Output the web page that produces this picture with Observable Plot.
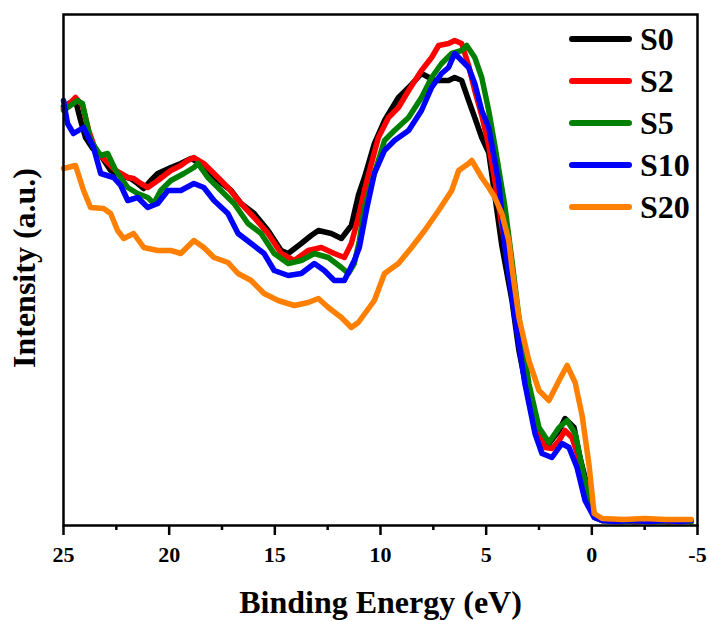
<!DOCTYPE html>
<html>
<head>
<meta charset="utf-8">
<script src="https://cdn.jsdelivr.net/npm/d3@7"></script>
<script src="https://cdn.jsdelivr.net/npm/@observablehq/plot@0.6"></script>
<style>
  body { margin: 0; background: #fff; }
  #wrap { position: relative; width: 708px; height: 621px; font-family: "Liberation Serif", "Times New Roman", serif; }
  #legend { position: absolute; left: 569px; top: 18px; }
  .item { display: flex; align-items: center; height: 42px; }
  .sw { width: 63px; height: 6px; border-radius: 3px; margin-right: 8px; }
  .lab { font-weight: bold; font-size: 32px; line-height: 1; color: #000; }
  #ytitle { position: absolute; left: 24px; top: 268px; transform: translate(-50%, -50%) rotate(-90deg);
            white-space: nowrap; font-weight: bold; font-size: 32px; line-height: 32px; color: #000; }
</style>
</head>
<body>
<div id="wrap"><div id="legend"></div><div id="ytitle"></div></div>
<script>
// Series names and colours
const seriesNames = ["S0", "S2", "S5", "S10", "S20"];
const seriesColors = ["#000000", "#ff0000", "#008000", "#0000ff", "#ff8000"];

// [binding energy (eV), intensity (a.u.)]
const s0 = [[25,419],[24.76,422],[24.43,425],[24.19,405],[23.96,388],[23.62,377],[23.24,370],[22.77,355],[22.29,350],[21.82,347],[21.49,342],[21.2,337],[20.87,345],[20.54,352],[19.92,358],[19.45,362],[18.97,367],[18.5,362],[17.88,348],[17.07,335],[16.6,322],[15.98,312],[15.32,295],[14.7,275],[14.37,272],[13.75,282],[13.28,290],[12.94,295],[12.33,292],[11.85,287],[11.38,300],[11.05,330],[10.76,348],[10.29,382],[9.81,405],[9.15,428],[8.67,438],[8.06,452],[7.44,445],[6.78,445],[6.49,448],[6.16,445],[5.83,425],[5.54,408],[5.21,388],[4.88,373],[4.59,330],[4.26,280],[3.78,225],[3.45,175],[2.98,125],[2.5,92],[2.03,82],[1.55,95],[1.27,107],[0.84,98],[0.56,68],[0.13,32],[-0.15,8],[-0.49,5],[-1.2,5],[-2,4],[-2.8,5],[-3.6,4],[-4.3,5],[-4.7,4]];
const s2 = [[25,417],[24.67,423],[24.43,428],[24.1,420],[23.81,395],[23.48,375],[23.24,370],[22.91,363],[22.53,355],[21.96,348],[21.68,347],[21.35,342],[21.01,338],[20.54,345],[19.92,355],[19.45,360],[19.12,365],[18.83,368],[18.36,362],[17.88,352],[17.22,338],[16.6,322],[15.98,308],[15.32,292],[14.7,272],[14.08,265],[13.42,275],[12.8,278],[12.19,272],[11.71,268],[11.38,282],[11.05,308],[10.76,335],[10.43,362],[10.1,388],[9.62,408],[9.15,418],[8.67,435],[8.06,455],[7.58,468],[7.25,480],[6.78,482],[6.49,485],[6.16,482],[5.83,460],[5.54,435],[5.21,410],[4.88,380],[4.59,345],[4.26,300],[3.78,245],[3.45,195],[2.98,135],[2.5,95],[2.22,78],[1.89,77],[1.55,85],[1.27,95],[0.94,88],[0.56,63],[0.13,28],[-0.15,8],[-0.49,5],[-1.3,5],[-2.1,4],[-2.9,5],[-3.7,4],[-4.4,5],[-4.7,4]];
const s5 = [[25,415],[24.67,420],[24.34,425],[24.1,422],[23.72,385],[23.24,370],[22.91,372],[22.53,355],[21.96,338],[21.49,332],[21.01,328],[20.73,322],[20.4,335],[19.92,345],[19.3,352],[18.83,358],[18.64,362],[18.17,348],[17.55,335],[16.93,322],[16.27,302],[15.65,292],[15.03,272],[14.37,262],[13.75,265],[13.13,272],[12.47,268],[11.85,258],[11.52,252],[11.24,262],[11.0,285],[10.76,318],[10.29,352],[9.81,385],[9.34,395],[8.67,408],[8.06,428],[7.58,448],[7.11,462],[6.63,472],[6.16,475],[5.92,480],[5.54,468],[5.21,448],[4.88,415],[4.59,380],[4.12,320],[3.78,265],[3.45,208],[2.98,142],[2.5,98],[2.03,83],[1.55,98],[1.17,105],[0.79,92],[0.46,58],[0.13,25],[-0.15,8],[-0.49,5],[-1.4,4],[-2.2,5],[-3.0,4],[-3.8,5],[-4.7,4]];
const s10 = [[25,425],[24.81,402],[24.53,392],[24.29,395],[24.05,398],[23.58,378],[23.24,352],[22.63,348],[22.29,340],[21.96,325],[21.49,328],[21.01,318],[20.54,322],[20.06,335],[19.45,335],[18.83,342],[18.36,338],[17.88,325],[17.22,312],[16.74,292],[16.12,282],[15.51,272],[15.03,255],[14.37,250],[13.75,252],[13.13,262],[12.66,255],[12.19,245],[11.71,245],[11.24,265],[11.0,278],[10.67,315],[10.29,352],[9.81,375],[9.34,385],[8.67,395],[8.06,415],[7.58,438],[7.11,452],[6.78,458],[6.49,472],[6.16,465],[5.83,458],[5.54,442],[5.21,415],[4.88,398],[4.4,342],[4.12,280],[3.64,208],[3.17,142],[2.69,92],[2.36,72],[1.89,68],[1.41,82],[1.08,78],[0.7,58],[0.32,25],[-0.11,8],[-0.49,5],[-1.1,4],[-1.9,5],[-2.7,4],[-3.5,5],[-4.2,4],[-4.7,5]];
const s20 = [[25,357],[24.43,360],[24.05,335],[23.72,318],[23.1,317],[22.77,312],[22.44,295],[22.15,287],[21.68,292],[21.2,278],[20.54,275],[19.92,275],[19.45,272],[18.83,285],[18.36,278],[17.88,268],[17.22,263],[16.74,252],[16.12,245],[15.51,232],[14.84,225],[14.08,220],[13.42,223],[12.94,227],[12.47,218],[11.85,208],[11.38,198],[11.05,203],[10.29,225],[9.81,252],[9.15,262],[8.53,278],[7.91,295],[7.25,315],[6.63,335],[6.3,355],[5.83,362],[5.68,365],[5.21,348],[4.88,338],[4.59,328],[4.26,312],[3.93,285],[3.78,258],[3.45,208],[2.98,165],[2.5,135],[2.03,125],[1.55,145],[1.17,160],[0.79,143],[0.46,110],[0.13,60],[-0.11,12],[-0.49,7],[-1.5,6],[-2.5,7],[-3.5,6],[-4.7,6]];

// Axis ticks and titles
const majorTicks = [25, 20, 15, 10, 5, 0, -5];
const minorTicks = [22.5, 17.5, 12.5, 7.5, 2.5, -2.5];
const xTitle = "Binding Energy (eV)";
const yTitle = "Intensity (a.u.)";

const allSeries = [s0, s2, s5, s10, s20];
const data = allSeries.flatMap((s, i) => s.map(([E, I]) => ({E, I, series: seriesNames[i]})));

const chart = Plot.plot({
  width: 708,
  height: 621,
  marginLeft: 63,
  marginRight: 11,
  marginTop: 14,
  marginBottom: 96,
  style: { fontFamily: "'Liberation Serif', 'Times New Roman', serif", background: "#fff", color: "#000" },
  x: { domain: [25, -5] },
  y: { domain: [0, 511], axis: null },
  color: { domain: seriesNames, range: seriesColors },
  marks: [
    Plot.line(data, { x: "E", y: "I", z: "series", stroke: "series", strokeWidth: 5.5, strokeLinejoin: "round", strokeLinecap: "round" }),
    Plot.frame({ stroke: "#000", strokeWidth: 2.5 }),
    Plot.axisX({ ticks: minorTicks, tickSize: 5, strokeWidth: 2.5, text: null, label: null }),
    Plot.axisX({ ticks: majorTicks, tickSize: 10, tickPadding: 11, strokeWidth: 2.5, fontSize: 22, fontWeight: "bold", label: null, tickFormat: d => String(d) }),
    Plot.text([xTitle], { frameAnchor: "bottom", lineAnchor: "bottom", dy: 87, fontSize: 32, fontWeight: "bold" })
  ]
});
document.getElementById("wrap").prepend(chart);
document.getElementById("ytitle").textContent = yTitle;

const legend = document.getElementById("legend");
seriesNames.forEach((name, i) => {
  const item = document.createElement("div");
  item.className = "item";
  const sw = document.createElement("div");
  sw.className = "sw";
  sw.style.background = seriesColors[i];
  const lab = document.createElement("span");
  lab.className = "lab";
  lab.textContent = name;
  item.append(sw, lab);
  legend.append(item);
});
</script>
</body>
</html>
